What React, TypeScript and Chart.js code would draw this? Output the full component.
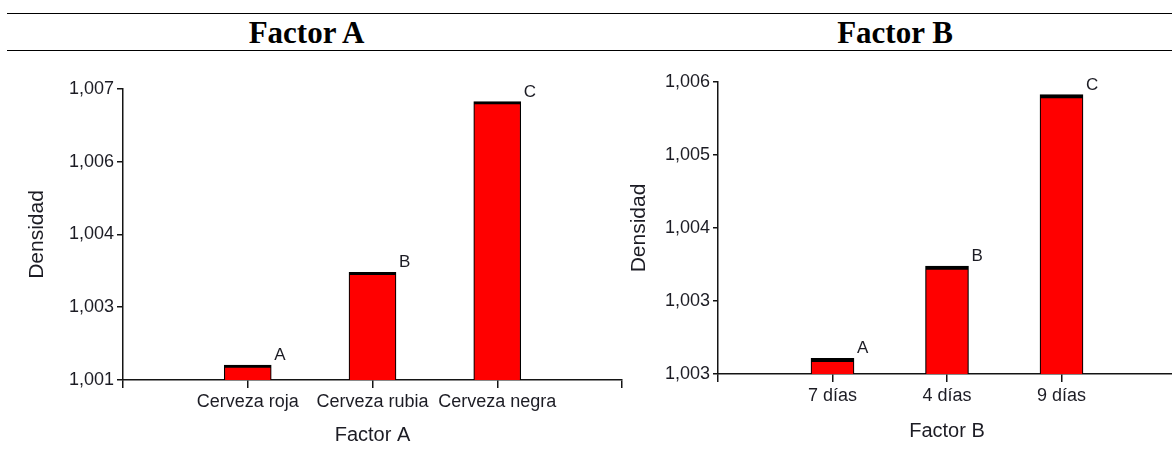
import React, { useEffect, useRef } from "react";
import { Chart, registerables } from "chart.js";

Chart.register(...registerables);

// ---------- data ----------
const titleA = "Factor A";
const categoriesA = ["Cerveza roja", "Cerveza rubia", "Cerveza negra"];
const valuesA = [1.00131, 1.00322, 1.00674];
const lettersA = ["A", "B", "C"];
const yTickValuesA = [1.001, 1.0025, 1.004, 1.0055, 1.007];
const yTickLabelsA = ["1,001", "1,003", "1,004", "1,006", "1,007"];

const titleB = "Factor B";
const categoriesB = ["7 días", "4 días", "9 días"];
const valuesB = [1.00276, 1.00371, 1.00547];
const lettersB = ["A", "B", "C"];
const yTickValuesB = [1.0026, 1.00335, 1.0041, 1.00485, 1.0056];
const yTickLabelsB = ["1,003", "1,003", "1,004", "1,005", "1,006"];

const yTitle = "Densidad";
const xSlots = [0, 1, 2, 3, 4];

// ---------- styles ----------
const SANS = "'Liberation Sans', Arial, sans-serif";
const TEXT = "#1c1c24";
const AXIS = "#141414";

type Cfg = {
  categories: string[];
  values: number[];
  letters: string[];
  yTicks: number[];
  yLabels: string[];
  xTitle: string;
  yWidth: number;
  xHeight: number;
  padTop: number;
  padRight: number;
  barThickness: number;
  topBorder: number;
  tickLenY: number;
  yTitlePad: number;
  xTitlePad: number;
};

function makeConfig(c: Cfg): any {
  const letterPlugin = {
    id: "letters",
    afterDatasetsDraw(chart: any) {
      const ctx = chart.ctx;
      const meta = chart.getDatasetMeta(0);
      ctx.save();
      ctx.font = `17px ${SANS}`;
      ctx.fillStyle = TEXT;
      ctx.textAlign = "left";
      ctx.textBaseline = "alphabetic";
      meta.data.forEach((el: any, i: number) => {
        ctx.fillText(c.letters[i], el.x + el.width / 2 + 3, el.y - 5);
      });
      ctx.restore();
    },
  };
  return {
    type: "bar",
    data: {
      datasets: [
        {
          data: c.values.map((v, i) => ({ x: i + 1, y: v })),
          backgroundColor: "#ff0000",
          borderColor: "#000000",
          borderWidth: { top: c.topBorder, left: 1.2, right: 1.2, bottom: 0 },
          barThickness: c.barThickness,
        },
      ],
    },
    options: {
      responsive: false,
      animation: false,
      devicePixelRatio: 1,
      layout: { padding: { top: c.padTop, right: c.padRight, left: 0, bottom: 0 } },
      plugins: { legend: { display: false }, tooltip: { enabled: false } },
      scales: {
        x: {
          type: "linear",
          min: 0,
          max: 4,
          offset: false,
          z: 1,
          afterBuildTicks: (s: any) => {
            s.ticks = xSlots.map((v) => ({ value: v }));
          },
          afterFit: (s: any) => {
            s.height = c.xHeight;
          },
          ticks: {
            autoSkip: false,
            maxRotation: 0,
            padding: 3,
            color: TEXT,
            font: { family: SANS, size: 18 },
            callback: (v: any) => c.categories[Number(v) - 1] ?? "",
          },
          grid: {
            display: true,
            offset: false,
            drawOnChartArea: false,
            drawTicks: true,
            tickLength: 8,
            color: AXIS,
            lineWidth: 1.5,
          },
          border: { display: true, color: AXIS, width: 1.5 },
          title: {
            display: true,
            text: c.xTitle,
            color: TEXT,
            font: { family: SANS, size: 20 },
            padding: { top: 0, bottom: c.xTitlePad },
          },
        },
        y: {
          type: "linear",
          min: c.yTicks[0],
          max: c.yTicks[c.yTicks.length - 1],
          z: 1,
          afterBuildTicks: (s: any) => {
            s.ticks = c.yTicks.map((v) => ({ value: v }));
          },
          afterFit: (s: any) => {
            s.width = c.yWidth;
          },
          ticks: {
            padding: 3,
            color: TEXT,
            font: { family: SANS, size: 18 },
            callback: (_v: any, i: number) => c.yLabels[i],
          },
          grid: {
            display: true,
            offset: false,
            drawOnChartArea: false,
            drawTicks: true,
            tickLength: c.tickLenY,
            color: AXIS,
            lineWidth: 1.5,
          },
          border: { display: true, color: AXIS, width: 1.5 },
          title: {
            display: true,
            text: yTitle,
            color: TEXT,
            font: { family: SANS, size: 21 },
            padding: { top: c.yTitlePad, bottom: 0 },
          },
        },
      },
    },
    plugins: [letterPlugin],
  };
}

function BarPanel(props: { cfg: Cfg; left: number; width: number }) {
  const ref = useRef<HTMLCanvasElement | null>(null);
  useEffect(() => {
    if (!ref.current) return;
    const chart = new Chart(ref.current, makeConfig(props.cfg));
    return () => chart.destroy();
  }, []);
  return (
    <canvas
      ref={ref}
      width={props.width}
      height={392}
      style={{
        position: "absolute",
        left: props.left,
        top: 60,
        width: props.width,
        height: 392,
      }}
    />
  );
}

const cfgA: Cfg = {
  categories: categoriesA,
  values: valuesA,
  letters: lettersA,
  yTicks: yTickValuesA,
  yLabels: yTickLabelsA,
  xTitle: titleA,
  yWidth: 123,
  xHeight: 72,
  padTop: 29,
  padRight: 8,
  barThickness: 47,
  topBorder: 3,
  tickLenY: 6,
  yTitlePad: 25,
  xTitlePad: 5,
};

const cfgB: Cfg = {
  categories: categoriesB,
  values: valuesB,
  letters: lettersB,
  yTicks: yTickValuesB,
  yLabels: yTickLabelsB,
  xTitle: titleB,
  yWidth: 103,
  xHeight: 78,
  padTop: 22,
  padRight: 4,
  barThickness: 43,
  topBorder: 4,
  tickLenY: 5,
  yTitlePad: 12,
  xTitlePad: 9,
};

const headerStyle: React.CSSProperties = {
  position: "absolute",
  top: 15,
  height: 36,
  lineHeight: "36px",
  textAlign: "center",
  fontFamily: "'Liberation Serif', 'Times New Roman', serif",
  fontWeight: "bold",
  fontSize: 31,
  color: "#000",
  whiteSpace: "nowrap",
};

export default function App() {
  return (
    <div
      style={{
        position: "fixed",
        left: 0,
        top: 0,
        width: 1172,
        height: 452,
        overflow: "hidden",
        background: "#fff",
      }}
    >
      <div style={{ position: "absolute", left: 7, right: 0, top: 13, height: 1.3, background: "#000" }} />
      <div style={{ position: "absolute", left: 7, right: 0, top: 50, height: 1.3, background: "#000" }} />
      <div style={{ ...headerStyle, left: 7, width: 599 }}>{titleA}</div>
      <div style={{ ...headerStyle, left: 606, width: 578 }}>{titleB}</div>
      <BarPanel cfg={cfgA} left={0} width={630} />
      <BarPanel cfg={cfgB} left={615} width={565} />
    </div>
  );
}
